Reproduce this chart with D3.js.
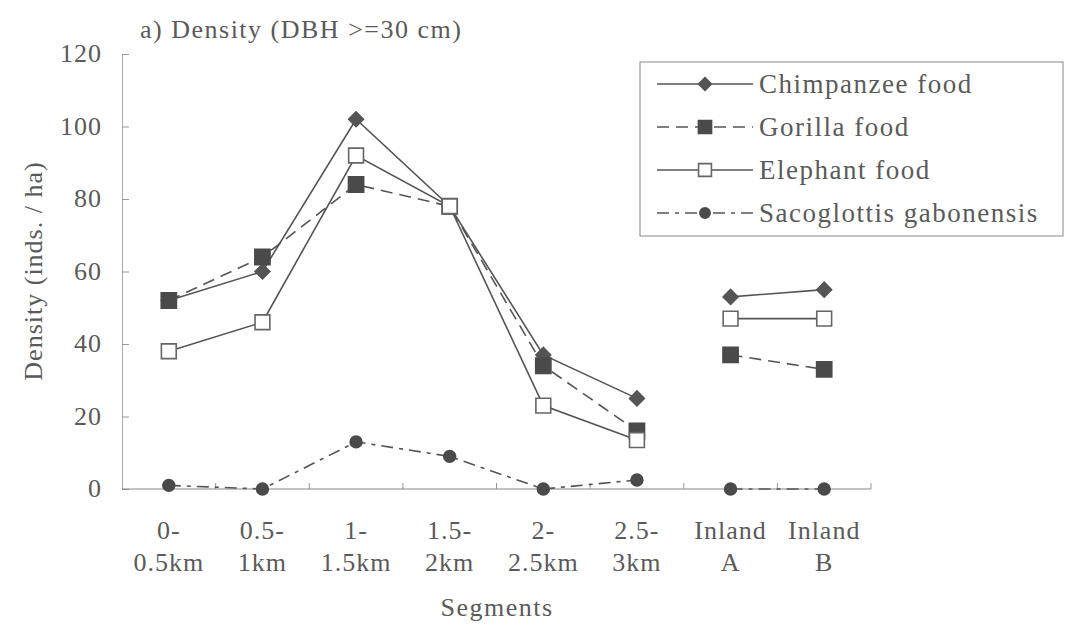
<!DOCTYPE html>
<html>
<head>
<meta charset="utf-8">
<script src="https://cdn.jsdelivr.net/npm/d3@7"></script>
<style>
  body { margin: 0; background: #fff; }
  svg text { font-family: "Times New Roman", "Liberation Serif", Tinos, "DejaVu Serif", "Noto Serif", serif; fill: #5a5a5a; }
</style>
</head>
<body>
<div id="chart"></div>
<script>
const segments = [["0-", "0.5km"], ["0.5-", "1km"], ["1-", "1.5km"], ["1.5-", "2km"],
                  ["2-", "2.5km"], ["2.5-", "3km"], ["Inland", "A"], ["Inland", "B"]];
const chimpanzee = [52, 60, 102, 78, 37, 25, 53, 55];
const gorilla = [52, 64, 84, 78, 34, 16, 37, 33];
const elephant = [38, 46, 92, 78, 23, 13.5, 47, 47];
const sacoglottis = [1, 0, 13, 9, 0, 2.5, 0, 0];
const yTicks = [0, 20, 40, 60, 80, 100, 120];
// transect points and inland points are drawn as separate runs
const runs = [[0, 6], [6, 8]];

const width = 1066, height = 633;
const plotLeft = 122, plotRight = 871, plotTop = 54, plotBottom = 489;

const series = [
  { name: "Chimpanzee food", values: chimpanzee, dash: null, shape: d3.symbolSquare, rot: 45, size: 110, fill: "#555", stroke: "#555" },
  { name: "Gorilla food", values: gorilla, dash: "12,7", shape: d3.symbolSquare, rot: 0, size: 230, fill: "#4a4a4a", stroke: "#4a4a4a" },
  { name: "Elephant food", values: elephant, dash: null, shape: d3.symbolSquare, rot: 0, size: 220, fill: "#fff", stroke: "#666" },
  { name: "Sacoglottis gabonensis", values: sacoglottis, dash: "12,6,4,6", shape: d3.symbolCircle, rot: 0, size: 110, fill: "#4a4a4a", stroke: "#4a4a4a" }
];

const svg = d3.select("#chart").append("svg")
  .attr("width", width).attr("height", height);

const x = d3.scaleBand().domain(d3.range(segments.length)).range([plotLeft, plotRight]);
const y = d3.scaleLinear().domain([0, 120]).range([plotBottom, plotTop]);

// y axis
const yAxis = svg.append("g")
  .attr("transform", `translate(${plotLeft},0)`)
  .call(d3.axisLeft(y).tickValues(yTicks).tickSize(-7).tickPadding(20));
yAxis.select(".domain").attr("stroke", "#aaa").attr("stroke-width", 1);
yAxis.selectAll(".tick line").attr("stroke", "#999");
yAxis.selectAll("text").attr("font-size", 26).attr("dy", "0.3em")
  .style("letter-spacing", "1px");

// x axis
const xAxis = svg.append("g")
  .attr("transform", `translate(0,${plotBottom})`);
xAxis.append("line").attr("x1", plotLeft).attr("x2", plotRight)
  .attr("stroke", "#888").attr("stroke-width", 1.2);
xAxis.selectAll(".xt").data(d3.range(1, segments.length + 1)).enter()
  .append("line")
  .attr("x1", i => plotLeft + i * x.step()).attr("x2", i => plotLeft + i * x.step())
  .attr("y1", 0).attr("y2", -6).attr("stroke", "#999");
const labels = xAxis.selectAll(".xl").data(segments).enter()
  .append("text")
  .attr("text-anchor", "middle")
  .attr("font-size", 26)
  .style("letter-spacing", "1px");
labels.append("tspan").attr("x", (d, i) => x(i) + x.bandwidth() / 2).attr("y", 50).text(d => d[0]);
labels.append("tspan").attr("x", (d, i) => x(i) + x.bandwidth() / 2).attr("y", 82).text(d => d[1]);

// axis titles
svg.append("text").attr("x", 497).attr("y", 616).attr("text-anchor", "middle")
  .attr("font-size", 26).style("letter-spacing", "1.5px").text("Segments");
svg.append("text").attr("transform", "translate(42,271) rotate(-90)")
  .attr("text-anchor", "middle").attr("font-size", 26).style("letter-spacing", "1px")
  .text("Density (inds. / ha)");
svg.append("text").attr("x", 140).attr("y", 38).attr("font-size", 26)
  .style("letter-spacing", "1.5px").text("a) Density (DBH >=30 cm)");

// lines and markers
const cx = i => x(i) + x.bandwidth() / 2;
const line = d3.line().x(d => cx(d.i)).y(d => y(d.v));

series.forEach(s => {
  const g = svg.append("g");
  runs.forEach(([a, b]) => {
    const pts = d3.range(a, b).map(i => ({ i, v: s.values[i] }));
    g.append("path").datum(pts)
      .attr("d", line)
      .attr("fill", "none")
      .attr("stroke", "#555")
      .attr("stroke-width", 1.6)
      .attr("stroke-dasharray", s.dash);
  });
  g.selectAll("path.m").data(s.values).enter().append("path")
    .attr("class", "m")
    .attr("transform", (v, i) => `translate(${cx(i)},${y(v)}) rotate(${s.rot})`)
    .attr("d", d3.symbol().type(s.shape).size(s.size))
    .attr("fill", s.fill).attr("stroke", s.stroke).attr("stroke-width", 1.6);
});

// legend
const legend = svg.append("g").attr("transform", "translate(640,62)");
legend.append("rect").attr("width", 423).attr("height", 174)
  .attr("fill", "#fff").attr("stroke", "#888").attr("stroke-width", 1);
series.forEach((s, k) => {
  const ly = 22 + k * 43;
  legend.append("line").attr("x1", 17).attr("x2", 113).attr("y1", ly).attr("y2", ly)
    .attr("stroke", "#555").attr("stroke-width", 1.6).attr("stroke-dasharray", s.dash);
  legend.append("path").attr("transform", `translate(65,${ly}) rotate(${s.rot})`)
    .attr("d", d3.symbol().type(s.shape).size(s.size * 0.75))
    .attr("fill", s.fill).attr("stroke", s.stroke).attr("stroke-width", 1.6);
  legend.append("text").attr("x", 119).attr("y", ly + 9).attr("font-size", 27)
    .style("letter-spacing", "1.5px").text(s.name);
});
</script>
</body>
</html>
